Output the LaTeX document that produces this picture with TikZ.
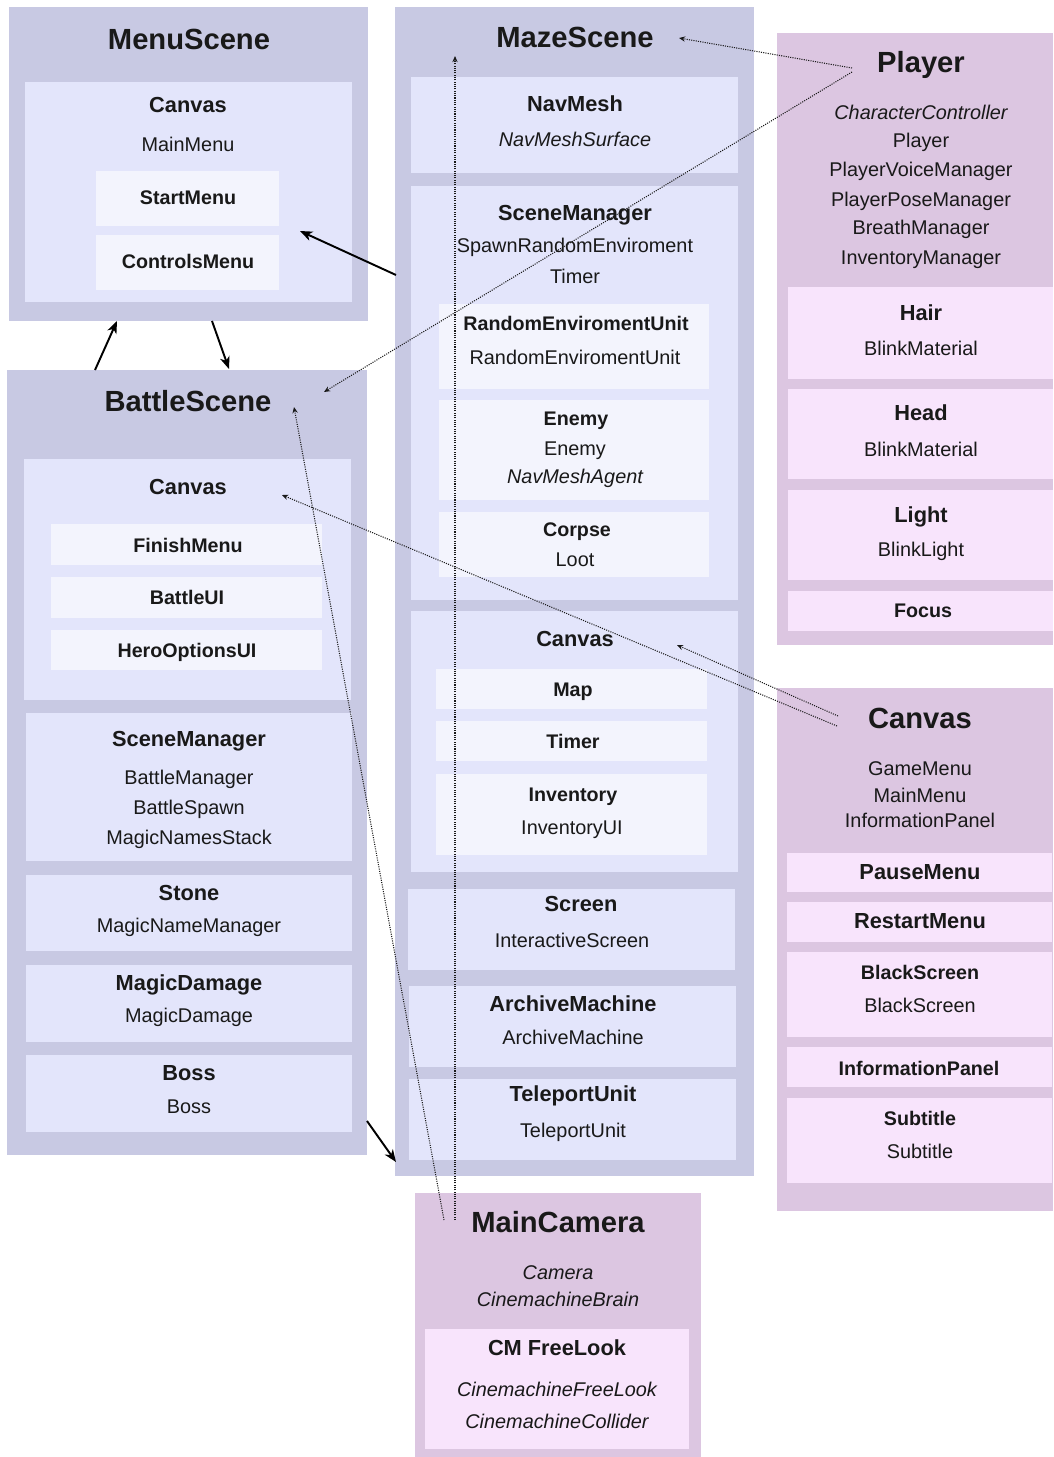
\documentclass[tikz,border=0pt]{standalone}
\usepackage{fontspec}
\setmainfont{Liberation Sans}
\usetikzlibrary{arrows.meta}

\definecolor{sceneblue}{HTML}{C8C9E3}
\definecolor{midblue}{HTML}{E3E5FB}
\definecolor{paleblue}{HTML}{F3F4FD}
\definecolor{scenepink}{HTML}{DCC6E1}
\definecolor{palepink}{HTML}{F8E4FC}

\tikzset{
  lbl/.style={inner sep=0pt, text height=0.72em, text depth=0pt, text=black!90},
  ttl/.style={lbl, font=\fontsize{16.6}{19}\selectfont\bfseries},
  hd/.style={lbl, font=\fontsize{12.4}{15}\selectfont\bfseries},
  sb/.style={lbl, font=\fontsize{11.2}{13}\selectfont\bfseries},
  tx/.style={lbl, font=\fontsize{11.3}{13}\selectfont},
  itx/.style={lbl, font=\fontsize{11.3}{13}\selectfont\itshape},
  link/.style={-{Stealth[length=7pt,width=5.5pt,inset=2pt]}, line width=1.1pt},
  dots/.style={-{Stealth[length=3.5pt,width=3pt]}, line width=0.6pt,
    dash pattern=on 0.6pt off 0.7pt, black!90},
}

\begin{document}
\begin{tikzpicture}[x=0.02cm, y=-0.02cm]

\useasboundingbox (0,0) rectangle (1054,1457);

% MenuScene
\fill[sceneblue] (9,7) rectangle (368,321);
\fill[midblue] (25,82) rectangle (352,302);
\fill[paleblue] (96,171) rectangle (279,226);
\fill[paleblue] (96,235) rectangle (279,290);
\node[ttl] (menuT) at (189,43) {MenuScene};
\node[hd] (menuCv) at (188,106) {Canvas};
\node[tx] (menuMain) at (188,145) {MainMenu};
\node[sb] (menuStart) at (188,198) {StartMenu};
\node[sb] (menuCtrl) at (188,262) {ControlsMenu};

% MazeScene
\fill[sceneblue] (395,7) rectangle (754,1176);
\fill[midblue] (411,77) rectangle (738,173);
\fill[midblue] (411,186) rectangle (738,600);
\foreach \ya/\yb in {304/389, 400/500, 512/577}
  \fill[paleblue] (439,\ya) rectangle (709,\yb);
\fill[midblue] (411,611) rectangle (738,872);
\foreach \ya/\yb in {669/709, 721/761, 774/855}
  \fill[paleblue] (436,\ya) rectangle (707,\yb);
\fill[midblue] (408,889) rectangle (735,970);
\fill[midblue] (409,986) rectangle (736,1067);
\fill[midblue] (409,1079) rectangle (736,1160);

\node[ttl] (mazeT) at (575,41) {MazeScene};
\node[hd] (navT) at (575,105) {NavMesh};
\node[itx] (navSurf) at (575,140) {NavMeshSurface};
\node[hd] (mazeMgrT) at (575,214) {SceneManager};
\node[tx] (mazeSpawn) at (575,246) {SpawnRandomEnviroment};
\node[tx] (mazeTimer) at (575,277) {Timer};
\node[sb] (envT) at (576,324) {RandomEnviromentUnit};
\node[tx] (envUnit) at (575,358) {RandomEnviromentUnit};
\node[sb] (enemyT) at (576,419) {Enemy};
\node[tx] (enemyScr) at (575,449) {Enemy};
\node[itx] (enemyAgent) at (575,477) {NavMeshAgent};
\node[sb] (corpseT) at (577,530) {Corpse};
\node[tx] (corpseLoot) at (575,560) {Loot};
\node[hd] (mazeCv) at (575,640) {Canvas};
\node[sb] (mapT) at (573,690) {Map};
\node[sb] (timerT) at (573,742) {Timer};
\node[sb] (invT) at (573,795) {Inventory};
\node[tx] (invUI) at (572,828) {InventoryUI};
\node[hd] (screenT) at (581,905) {Screen};
\node[tx] (screenScr) at (572,941) {InteractiveScreen};
\node[hd] (archT) at (573,1005) {ArchiveMachine};
\node[tx] (archScr) at (573,1038) {ArchiveMachine};
\node[hd] (telT) at (573,1095) {TeleportUnit};
\node[tx] (telScr) at (573,1131) {TeleportUnit};

% BattleScene
\fill[sceneblue] (7,370) rectangle (367,1155);
\fill[midblue] (24,459) rectangle (351,700);
\foreach \ya/\yb in {524/565, 577/618, 630/670}
  \fill[paleblue] (51,\ya) rectangle (322,\yb);
\foreach \ya/\yb in {713/861, 875/951, 965/1042, 1055/1132}
  \fill[midblue] (26,\ya) rectangle (352,\yb);

\node[ttl] (battleT) at (188,405) {BattleScene};
\node[hd] (battleCv) at (188,488) {Canvas};
\node[sb] (finishT) at (188,546) {FinishMenu};
\node[sb] (bUiT) at (187,598) {BattleUI};
\node[sb] (heroT) at (187,651) {HeroOptionsUI};
\node[hd] (battleMgrT) at (189,740) {SceneManager};
\node[tx] (battleMgr) at (189,778) {BattleManager};
\node[tx] (battleSpawn) at (189,808) {BattleSpawn};
\node[tx] (magicStack) at (189,838) {MagicNamesStack};
\node[hd] (stoneT) at (189,894) {Stone};
\node[tx] (stoneMgr) at (189,926) {MagicNameManager};
\node[hd] (dmgT) at (189,984) {MagicDamage};
\node[tx] (dmgScr) at (189,1016) {MagicDamage};
\node[hd] (bossT) at (189,1074) {Boss};
\node[tx] (bossScr) at (189,1107) {Boss};

% Player
\fill[scenepink] (777,33) rectangle (1053,645);
\foreach \ya/\yb in {287/379, 389/479, 490/580, 591/631}
  \fill[palepink] (788,\ya) rectangle (1053,\yb);

\node[ttl] (playerT) at (921,66) {Player};
\node[itx] (plCtrl) at (921,113) {CharacterController};
\foreach \t/\y in {Player/141, PlayerVoiceManager/170, PlayerPoseManager/200,
                   BreathManager/228, InventoryManager/258}
  \node[tx] (pl\y) at (921,\y) {\t};
\node[hd] (hairT) at (921,314) {Hair};
\node[tx] (hairMat) at (921,349) {BlinkMaterial};
\node[hd] (headT) at (921,414) {Head};
\node[tx] (headMat) at (921,450) {BlinkMaterial};
\node[hd] (lightT) at (921,516) {Light};
\node[tx] (lightScr) at (921,550) {BlinkLight};
\node[sb] (focusT) at (923,611) {Focus};

% Canvas (persistente)
\fill[scenepink] (777,688) rectangle (1053,1211);
\foreach \ya/\yb in {853/892, 902/942, 952/1037, 1047/1087, 1098/1183}
  \fill[palepink] (787,\ya) rectangle (1052,\yb);

\node[ttl] (canvT) at (920,722) {Canvas};
\foreach \t/\y in {GameMenu/769, MainMenu/796, InformationPanel/821}
  \node[tx] (cv\y) at (920,\y) {\t};
\node[hd] (pauseT) at (920,873) {PauseMenu};
\node[hd] (restartT) at (920,922) {RestartMenu};
\node[sb] (blackT) at (920,973) {BlackScreen};
\node[tx] (blackScr) at (920,1006) {BlackScreen};
\node[sb] (infoT) at (919,1069) {InformationPanel};
\node[sb] (subT) at (920,1119) {Subtitle};
\node[tx] (subScr) at (920,1152) {Subtitle};

% MainCamera
\fill[scenepink] (415,1193) rectangle (701,1457);
\fill[palepink] (425,1329) rectangle (689,1449);
\node[ttl] (camT) at (558,1226) {MainCamera};
\node[itx] (camCam) at (558,1273) {Camera};
\node[itx] (camBrain) at (558,1300) {CinemachineBrain};
\node[hd] (freeT) at (557,1349) {CM FreeLook};
\node[itx] (freeLook) at (557,1390) {CinemachineFreeLook};
\node[itx] (freeColl) at (557,1422) {CinemachineCollider};

% punti di aggancio
\coordinate (mazeL) at (396,275);
\coordinate (menuIn) at (300,231);
\coordinate (battleUp) at (95,370);
\coordinate (menuDownL) at (117,321);
\coordinate (menuDownR) at (212,321);
\coordinate (battleIn) at (229,369);
\coordinate (battleOut) at (367,1121);
\coordinate (mazeIn) at (396,1162);
\coordinate (plA) at (852,68);
\coordinate (plB) at (852,72);
\coordinate (mazeTin) at (679,38);
\coordinate (battleTin) at (324,392);
\coordinate (camA) at (455,1220);
\coordinate (camB) at (444,1220);
\coordinate (mazeTop) at (455,56);
\coordinate (battleTop) at (294,407);
\coordinate (cvA) at (838,716);
\coordinate (cvB) at (837,726);
\coordinate (mazeCvIn) at (677,645);
\coordinate (battleCvIn) at (282,495);

% cambi di scena
\draw[link] (mazeL) -- (menuIn);
\draw[link] (battleUp) -- (menuDownL);
\draw[link] (menuDownR) -- (battleIn);
\draw[link] (battleOut) -- (mazeIn);

% oggetti persistenti
\draw[dots] (plA) -- (mazeTin);
\draw[dots] (plB) -- (battleTin);
\draw[dots] (camA) -- (mazeTop);
\draw[dots] (camB) -- (battleTop);
\draw[dots] (cvA) -- (mazeCvIn);
\draw[dots] (cvB) -- (battleCvIn);

\end{tikzpicture}
\end{document}
